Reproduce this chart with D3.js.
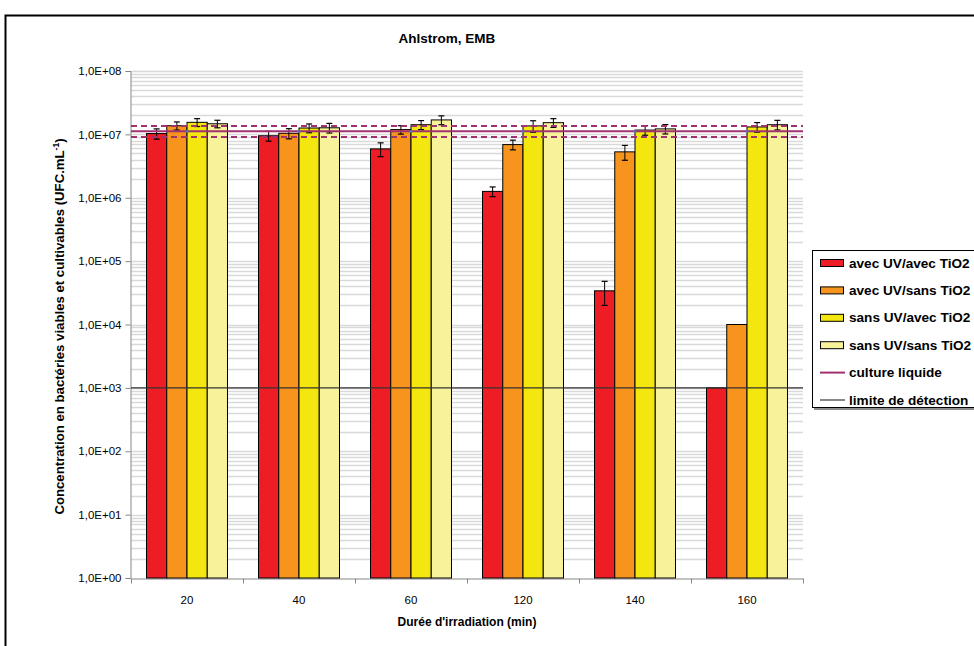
<!DOCTYPE html>
<html><head><meta charset="utf-8">
<script src="https://cdn.jsdelivr.net/npm/d3@7"></script>
<style>
html,body{margin:0;padding:0;background:#fff;}
svg{display:block;font-family:"Liberation Sans",Arial,sans-serif;}
</style></head>
<body>
<svg id="chart" width="974" height="646"></svg>
<script>
// ---- data ----
const categories = ["20", "40", "60", "120", "140", "160"];
const seriesNames = ["avec UV/avec TiO2", "avec UV/sans TiO2", "sans UV/avec TiO2", "sans UV/sans TiO2"];
const seriesColors = ["#EE1D25", "#F7941D", "#F3E70F", "#F8F29B"];
const avecUVavecTiO2 = [1.03e7, 9.5e6, 5.9e6, 1.26e6, 3.4e4, 1.0e3];
const avecUVavecTiO2Err = [1.9e6, 1.7e6, 1.45e6, 2.2e5, 1.4e4, 0];
const avecUVsansTiO2 = [1.37e7, 1.04e7, 1.19e7, 6.9e6, 5.3e6, 1.0e4];
const avecUVsansTiO2Err = [2.0e6, 1.9e6, 1.8e6, 1.2e6, 1.4e6, 0];
const sansUVavecTiO2 = [1.55e7, 1.26e7, 1.42e7, 1.36e7, 1.17e7, 1.31e7];
const sansUVavecTiO2Err = [2.2e6, 2.0e6, 2.3e6, 2.8e6, 2.0e6, 2.25e6];
const sansUVsansTiO2 = [1.47e7, 1.27e7, 1.69e7, 1.53e7, 1.22e7, 1.42e7];
const sansUVsansTiO2Err = [2.0e6, 2.2e6, 2.7e6, 2.4e6, 2.05e6, 2.45e6];
const cultureLiquide = 1.12e7;
const cultureLiquideHaut = 1.36e7;
const cultureLiquideBas = 9.1e6;
const limiteDetection = 1.0e3;
const yTickValues = [1, 1e1, 1e2, 1e3, 1e4, 1e5, 1e6, 1e7, 1e8];
const yTickLabels = ["1,0E+00", "1,0E+01", "1,0E+02", "1,0E+03", "1,0E+04", "1,0E+05", "1,0E+06", "1,0E+07", "1,0E+08"];
const titleText = "Ahlstrom, EMB";
const xTitle = "Durée d'irradiation (min)";
const yTitle = "Concentration en bactéries viables et cultivables (UFC.mL";
const legendLines = ["culture liquide", "limite de détection"];

const seriesValues = [avecUVavecTiO2, avecUVsansTiO2, sansUVavecTiO2, sansUVsansTiO2];
const seriesErrors = [avecUVavecTiO2Err, avecUVsansTiO2Err, sansUVavecTiO2Err, sansUVsansTiO2Err];

// ---- layout ----
const svg = d3.select("#chart");
const plot = {left: 131, right: 803, top: 71, bottom: 578};

// outer frame
svg.append("rect").attr("x", 5.5).attr("y", 15.5).attr("width", 1000).attr("height", 700)
  .attr("fill", "#fff").attr("stroke", "#000").attr("stroke-width", 2);

const y = d3.scaleLog().domain([1, 1e8]).range([plot.bottom, plot.top]);
const x0 = d3.scaleBand().domain(categories).range([plot.left, plot.right])
  .paddingInner(0.277).paddingOuter(0.1385);
const x1 = d3.scaleBand().domain(seriesNames).range([0, x0.bandwidth()]);

// minor + major gridlines
const gridVals = [];
for (let e = 0; e < 8; e++) for (let m = 1; m <= 9; m++) gridVals.push(m * Math.pow(10, e));
gridVals.push(1e8);
svg.append("g").selectAll("line").data(gridVals.filter(v => v > 1)).join("line")
  .attr("x1", plot.left).attr("x2", plot.right)
  .attr("y1", d => Math.round(y(d)) + 0.5).attr("y2", d => Math.round(y(d)) + 0.5)
  .attr("stroke", "#D9D9D9").attr("stroke-width", 1.3);

// y axis
const yAxis = d3.axisLeft(y).tickValues(yTickValues)
  .tickFormat((d, i) => yTickLabels[i]).tickSize(5).tickPadding(4);
const gy = svg.append("g").attr("transform", `translate(${plot.left - 0.5},0)`).call(yAxis);
gy.select(".domain").attr("stroke", "#868686");
gy.selectAll(".tick line").attr("stroke", "#868686");
gy.selectAll(".tick text").attr("font-size", 11.5).attr("fill", "#000");

// x axis
const xAxis = d3.axisBottom(x0).tickSize(0).tickPadding(17);
const gx = svg.append("g").attr("transform", `translate(0,${plot.bottom + 0.5})`).call(xAxis);
gx.select(".domain").attr("stroke", "#868686");
gx.selectAll(".tick text").attr("font-size", 11.5).attr("fill", "#000");
// category boundary ticks
const bounds = categories.map(c => x0(c) - x0.step() * x0.paddingInner() / 2).concat([plot.right]);
gx.append("g").selectAll("line").data(bounds).join("line")
  .attr("x1", d => Math.round(d) + 0.5).attr("x2", d => Math.round(d) + 0.5)
  .attr("y1", 0).attr("y2", 5).attr("stroke", "#868686");

// bars
const groups = svg.append("g").selectAll("g").data(categories).join("g")
  .attr("transform", c => `translate(${x0(c)},0)`);
groups.selectAll("rect").data((c, ci) => seriesNames.map((s, si) => ({s, si, v: seriesValues[si][ci], e: seriesErrors[si][ci]})))
  .join("rect")
  .attr("x", d => x1(d.s)).attr("width", x1.bandwidth())
  .attr("y", d => y(d.v)).attr("height", d => plot.bottom - y(d.v))
  .attr("fill", d => seriesColors[d.si]).attr("stroke", "#000").attr("stroke-width", 1);

// error bars
const errG = groups.selectAll("g.err").data((c, ci) => seriesNames.map((s, si) => ({s, si, v: seriesValues[si][ci], e: seriesErrors[si][ci]})).filter(d => d.e > 0))
  .join("g").attr("class", "err");
errG.append("line")
  .attr("x1", d => x1(d.s) + x1.bandwidth() / 2).attr("x2", d => x1(d.s) + x1.bandwidth() / 2)
  .attr("y1", d => y(d.v + d.e)).attr("y2", d => y(d.v - d.e)).attr("stroke", "#000").attr("stroke-width", 1);
[1, -1].forEach(sg => {
  errG.append("line")
    .attr("x1", d => x1(d.s) + x1.bandwidth() / 2 - 3).attr("x2", d => x1(d.s) + x1.bandwidth() / 2 + 3)
    .attr("y1", d => y(d.v + sg * d.e)).attr("y2", d => y(d.v + sg * d.e))
    .attr("stroke", "#000").attr("stroke-width", 1.2);
});

// culture liquide lines
const lineCol = "#A0336F";
svg.append("line").attr("x1", plot.left).attr("x2", plot.right)
  .attr("y1", y(cultureLiquide)).attr("y2", y(cultureLiquide)).attr("stroke", lineCol).attr("stroke-width", 2);
[cultureLiquideHaut, cultureLiquideBas].forEach(v => {
  svg.append("line").attr("x1", plot.left).attr("x2", plot.right)
    .attr("y1", y(v)).attr("y2", y(v)).attr("stroke", lineCol).attr("stroke-width", 2)
    .attr("stroke-dasharray", "6,4");
});
svg.append("g").selectAll("circle").data(categories).join("circle")
  .attr("cx", c => x0(c) + x0.bandwidth() / 2).attr("cy", y(cultureLiquide)).attr("r", 1.6)
  .attr("fill", "#5B6FA8");
// limite de détection
svg.append("line").attr("x1", plot.left).attr("x2", plot.right)
  .attr("y1", y(limiteDetection)).attr("y2", y(limiteDetection)).attr("stroke", "#333").attr("stroke-width", 1.2);

// titles
svg.append("text").attr("x", 447).attr("y", 43).attr("text-anchor", "middle")
  .attr("font-size", 13.5).attr("font-weight", "bold").text(titleText);
svg.append("text").attr("x", (plot.left + plot.right) / 2).attr("y", 626).attr("text-anchor", "middle")
  .attr("font-size", 12).attr("font-weight", "bold").text(xTitle);
const yt = svg.append("text").attr("transform", `translate(64,${(plot.top + plot.bottom) / 2 + 2}) rotate(-90)`)
  .attr("text-anchor", "middle").attr("font-size", 13.2).attr("font-weight", "bold");
yt.append("tspan").text(yTitle);
yt.append("tspan").attr("dy", -5).attr("font-size", 8.5).text("-1");
yt.append("tspan").attr("dy", 5).text(")");

// legend
const lg = svg.append("g");
lg.append("rect").attr("x", 814).attr("y", 252).attr("width", 200).attr("height", 158).attr("fill", "#8c8c8c");
lg.append("rect").attr("x", 812.5).attr("y", 250.5).attr("width", 200).attr("height", 157)
  .attr("fill", "#fff").attr("stroke", "#000").attr("stroke-width", 1);
const rowY = d3.range(6).map(i => 263 + i * 27.4);
seriesNames.forEach((s, i) => {
  lg.append("rect").attr("x", 820.5).attr("y", rowY[i] - 3.5).attr("width", 23).attr("height", 7)
    .attr("fill", seriesColors[i]).attr("stroke", "#000").attr("stroke-width", 1);
  lg.append("text").attr("x", 849).attr("y", rowY[i] + 4.5).attr("font-size", 13.6).attr("font-weight", "bold").text(s);
});
legendLines.forEach((s, j) => {
  const i = j + 4;
  lg.append("line").attr("x1", 820).attr("x2", 845).attr("y1", rowY[i]).attr("y2", rowY[i])
    .attr("stroke", j === 0 ? lineCol : "#444").attr("stroke-width", j === 0 ? 2 : 1.3);
  lg.append("text").attr("x", 849).attr("y", rowY[i] + 4.5).attr("font-size", 13.6).attr("font-weight", "bold").text(s);
});
</script>
</body></html>
